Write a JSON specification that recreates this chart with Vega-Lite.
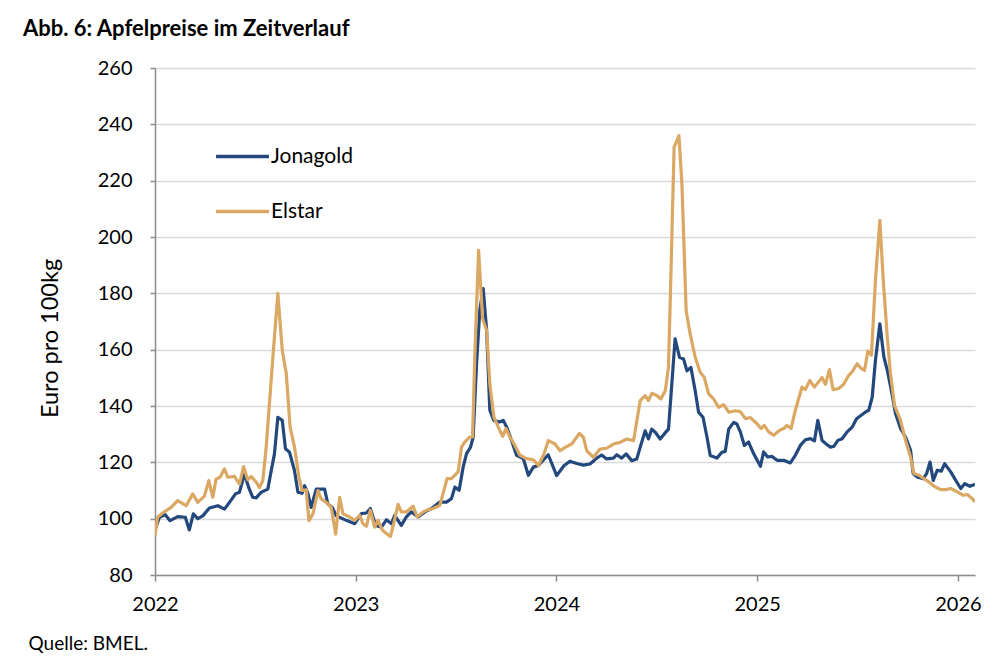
{
  "$schema": "https://vega.github.io/schema/vega-lite/v6.json",
  "width": 820,
  "height": 507,
  "autosize": {"type": "none"},
  "padding": {"left": 155, "top": 68, "right": 27, "bottom": 86},
  "background": "white",
  "title": {
    "text": "Abb. 6: Apfelpreise im Zeitverlauf",
    "anchor": "start",
    "frame": "group",
    "font": "Lato",
    "fontSize": 22,
    "fontWeight": "bold",
    "color": "#000000",
    "dx": -132,
    "offset": 17
  },
  "config": {
    "view": {"stroke": null},
    "font": "Lato"
  },
  "data": {
    "values": [
      {"t": 2022.000, "s": "Jonagold", "v": 96},
      {"t": 2022.022, "s": "Jonagold", "v": 100.5},
      {"t": 2022.051, "s": "Jonagold", "v": 101.4},
      {"t": 2022.075, "s": "Jonagold", "v": 99.3},
      {"t": 2022.113, "s": "Jonagold", "v": 100.7},
      {"t": 2022.151, "s": "Jonagold", "v": 100.5},
      {"t": 2022.171, "s": "Jonagold", "v": 96},
      {"t": 2022.191, "s": "Jonagold", "v": 101.7},
      {"t": 2022.213, "s": "Jonagold", "v": 100},
      {"t": 2022.238, "s": "Jonagold", "v": 101},
      {"t": 2022.271, "s": "Jonagold", "v": 103.8},
      {"t": 2022.313, "s": "Jonagold", "v": 104.6},
      {"t": 2022.346, "s": "Jonagold", "v": 103.4},
      {"t": 2022.371, "s": "Jonagold", "v": 105.8},
      {"t": 2022.401, "s": "Jonagold", "v": 108.8},
      {"t": 2022.421, "s": "Jonagold", "v": 109.4},
      {"t": 2022.446, "s": "Jonagold", "v": 115.9},
      {"t": 2022.467, "s": "Jonagold", "v": 111},
      {"t": 2022.487, "s": "Jonagold", "v": 107.6},
      {"t": 2022.504, "s": "Jonagold", "v": 107.4},
      {"t": 2022.529, "s": "Jonagold", "v": 109.4},
      {"t": 2022.562, "s": "Jonagold", "v": 110.5},
      {"t": 2022.579, "s": "Jonagold", "v": 117},
      {"t": 2022.595, "s": "Jonagold", "v": 123},
      {"t": 2022.612, "s": "Jonagold", "v": 136},
      {"t": 2022.634, "s": "Jonagold", "v": 134.9},
      {"t": 2022.650, "s": "Jonagold", "v": 124.8},
      {"t": 2022.670, "s": "Jonagold", "v": 123.6},
      {"t": 2022.695, "s": "Jonagold", "v": 117},
      {"t": 2022.712, "s": "Jonagold", "v": 109.4},
      {"t": 2022.733, "s": "Jonagold", "v": 109},
      {"t": 2022.745, "s": "Jonagold", "v": 111.7},
      {"t": 2022.762, "s": "Jonagold", "v": 108.8},
      {"t": 2022.778, "s": "Jonagold", "v": 104},
      {"t": 2022.803, "s": "Jonagold", "v": 110.5},
      {"t": 2022.845, "s": "Jonagold", "v": 110.5},
      {"t": 2022.861, "s": "Jonagold", "v": 105.2},
      {"t": 2022.883, "s": "Jonagold", "v": 104},
      {"t": 2022.903, "s": "Jonagold", "v": 101},
      {"t": 2022.953, "s": "Jonagold", "v": 99.4},
      {"t": 2022.995, "s": "Jonagold", "v": 98.2},
      {"t": 2023.028, "s": "Jonagold", "v": 101.8},
      {"t": 2023.053, "s": "Jonagold", "v": 102},
      {"t": 2023.073, "s": "Jonagold", "v": 103.6},
      {"t": 2023.099, "s": "Jonagold", "v": 97.6},
      {"t": 2023.128, "s": "Jonagold", "v": 97},
      {"t": 2023.153, "s": "Jonagold", "v": 99.6},
      {"t": 2023.178, "s": "Jonagold", "v": 98.2},
      {"t": 2023.194, "s": "Jonagold", "v": 101.2},
      {"t": 2023.227, "s": "Jonagold", "v": 97.6},
      {"t": 2023.252, "s": "Jonagold", "v": 100.6},
      {"t": 2023.277, "s": "Jonagold", "v": 102.4},
      {"t": 2023.311, "s": "Jonagold", "v": 100.6},
      {"t": 2023.344, "s": "Jonagold", "v": 102.4},
      {"t": 2023.377, "s": "Jonagold", "v": 103.6},
      {"t": 2023.419, "s": "Jonagold", "v": 105.9},
      {"t": 2023.452, "s": "Jonagold", "v": 105.9},
      {"t": 2023.477, "s": "Jonagold", "v": 107.1},
      {"t": 2023.494, "s": "Jonagold", "v": 111.2},
      {"t": 2023.515, "s": "Jonagold", "v": 110.1},
      {"t": 2023.535, "s": "Jonagold", "v": 118.3},
      {"t": 2023.552, "s": "Jonagold", "v": 123.1},
      {"t": 2023.572, "s": "Jonagold", "v": 125.4},
      {"t": 2023.585, "s": "Jonagold", "v": 129},
      {"t": 2023.602, "s": "Jonagold", "v": 155},
      {"t": 2023.618, "s": "Jonagold", "v": 174},
      {"t": 2023.635, "s": "Jonagold", "v": 181.7},
      {"t": 2023.652, "s": "Jonagold", "v": 166.9},
      {"t": 2023.668, "s": "Jonagold", "v": 138.5},
      {"t": 2023.688, "s": "Jonagold", "v": 134.9},
      {"t": 2023.715, "s": "Jonagold", "v": 134.3},
      {"t": 2023.735, "s": "Jonagold", "v": 134.9},
      {"t": 2023.752, "s": "Jonagold", "v": 132.5},
      {"t": 2023.776, "s": "Jonagold", "v": 127.8},
      {"t": 2023.801, "s": "Jonagold", "v": 122.5},
      {"t": 2023.835, "s": "Jonagold", "v": 121.3},
      {"t": 2023.860, "s": "Jonagold", "v": 115.4},
      {"t": 2023.885, "s": "Jonagold", "v": 118.3},
      {"t": 2023.910, "s": "Jonagold", "v": 118.9},
      {"t": 2023.959, "s": "Jonagold", "v": 122.7},
      {"t": 2024.001, "s": "Jonagold", "v": 115.3},
      {"t": 2024.037, "s": "Jonagold", "v": 118.8},
      {"t": 2024.067, "s": "Jonagold", "v": 120.4},
      {"t": 2024.101, "s": "Jonagold", "v": 119.6},
      {"t": 2024.134, "s": "Jonagold", "v": 119},
      {"t": 2024.167, "s": "Jonagold", "v": 119.4},
      {"t": 2024.201, "s": "Jonagold", "v": 121.5},
      {"t": 2024.225, "s": "Jonagold", "v": 122.6},
      {"t": 2024.250, "s": "Jonagold", "v": 121.2},
      {"t": 2024.284, "s": "Jonagold", "v": 121.5},
      {"t": 2024.300, "s": "Jonagold", "v": 122.7},
      {"t": 2024.325, "s": "Jonagold", "v": 121.5},
      {"t": 2024.347, "s": "Jonagold", "v": 123},
      {"t": 2024.375, "s": "Jonagold", "v": 120.6},
      {"t": 2024.400, "s": "Jonagold", "v": 121.2},
      {"t": 2024.417, "s": "Jonagold", "v": 125.3},
      {"t": 2024.442, "s": "Jonagold", "v": 131.2},
      {"t": 2024.458, "s": "Jonagold", "v": 128.3},
      {"t": 2024.475, "s": "Jonagold", "v": 131.8},
      {"t": 2024.492, "s": "Jonagold", "v": 130.7},
      {"t": 2024.517, "s": "Jonagold", "v": 128.3},
      {"t": 2024.537, "s": "Jonagold", "v": 130.1},
      {"t": 2024.558, "s": "Jonagold", "v": 131.8},
      {"t": 2024.571, "s": "Jonagold", "v": 144.3},
      {"t": 2024.591, "s": "Jonagold", "v": 163.8},
      {"t": 2024.613, "s": "Jonagold", "v": 157.3},
      {"t": 2024.633, "s": "Jonagold", "v": 156.7},
      {"t": 2024.650, "s": "Jonagold", "v": 152.5},
      {"t": 2024.670, "s": "Jonagold", "v": 153.7},
      {"t": 2024.691, "s": "Jonagold", "v": 145.4},
      {"t": 2024.708, "s": "Jonagold", "v": 137.8},
      {"t": 2024.730, "s": "Jonagold", "v": 136},
      {"t": 2024.750, "s": "Jonagold", "v": 128.9},
      {"t": 2024.766, "s": "Jonagold", "v": 122.4},
      {"t": 2024.799, "s": "Jonagold", "v": 121.5},
      {"t": 2024.824, "s": "Jonagold", "v": 123.6},
      {"t": 2024.841, "s": "Jonagold", "v": 123.9},
      {"t": 2024.858, "s": "Jonagold", "v": 131.8},
      {"t": 2024.883, "s": "Jonagold", "v": 134.2},
      {"t": 2024.899, "s": "Jonagold", "v": 133.6},
      {"t": 2024.916, "s": "Jonagold", "v": 130.8},
      {"t": 2024.936, "s": "Jonagold", "v": 126},
      {"t": 2024.957, "s": "Jonagold", "v": 127.2},
      {"t": 2024.982, "s": "Jonagold", "v": 123.1},
      {"t": 2025.016, "s": "Jonagold", "v": 118.6},
      {"t": 2025.032, "s": "Jonagold", "v": 123.7},
      {"t": 2025.052, "s": "Jonagold", "v": 121.9},
      {"t": 2025.074, "s": "Jonagold", "v": 122.1},
      {"t": 2025.099, "s": "Jonagold", "v": 120.7},
      {"t": 2025.132, "s": "Jonagold", "v": 120.7},
      {"t": 2025.165, "s": "Jonagold", "v": 119.8},
      {"t": 2025.190, "s": "Jonagold", "v": 122.5},
      {"t": 2025.215, "s": "Jonagold", "v": 126},
      {"t": 2025.240, "s": "Jonagold", "v": 128},
      {"t": 2025.265, "s": "Jonagold", "v": 128.4},
      {"t": 2025.285, "s": "Jonagold", "v": 127.6},
      {"t": 2025.302, "s": "Jonagold", "v": 134.9},
      {"t": 2025.323, "s": "Jonagold", "v": 127.8},
      {"t": 2025.345, "s": "Jonagold", "v": 126.4},
      {"t": 2025.365, "s": "Jonagold", "v": 125.4},
      {"t": 2025.382, "s": "Jonagold", "v": 125.7},
      {"t": 2025.402, "s": "Jonagold", "v": 127.8},
      {"t": 2025.423, "s": "Jonagold", "v": 128.4},
      {"t": 2025.448, "s": "Jonagold", "v": 130.8},
      {"t": 2025.473, "s": "Jonagold", "v": 132.5},
      {"t": 2025.495, "s": "Jonagold", "v": 135.5},
      {"t": 2025.518, "s": "Jonagold", "v": 136.7},
      {"t": 2025.540, "s": "Jonagold", "v": 137.9},
      {"t": 2025.556, "s": "Jonagold", "v": 138.5},
      {"t": 2025.573, "s": "Jonagold", "v": 143.2},
      {"t": 2025.589, "s": "Jonagold", "v": 156.2},
      {"t": 2025.611, "s": "Jonagold", "v": 169.2},
      {"t": 2025.631, "s": "Jonagold", "v": 157.4},
      {"t": 2025.648, "s": "Jonagold", "v": 152.7},
      {"t": 2025.668, "s": "Jonagold", "v": 145.6},
      {"t": 2025.689, "s": "Jonagold", "v": 137.3},
      {"t": 2025.714, "s": "Jonagold", "v": 132},
      {"t": 2025.739, "s": "Jonagold", "v": 129},
      {"t": 2025.764, "s": "Jonagold", "v": 124.3},
      {"t": 2025.777, "s": "Jonagold", "v": 116},
      {"t": 2025.797, "s": "Jonagold", "v": 114.8},
      {"t": 2025.827, "s": "Jonagold", "v": 114.2},
      {"t": 2025.844, "s": "Jonagold", "v": 116},
      {"t": 2025.861, "s": "Jonagold", "v": 120.1},
      {"t": 2025.877, "s": "Jonagold", "v": 113.6},
      {"t": 2025.897, "s": "Jonagold", "v": 117.2},
      {"t": 2025.917, "s": "Jonagold", "v": 116.9},
      {"t": 2025.934, "s": "Jonagold", "v": 119.5},
      {"t": 2025.964, "s": "Jonagold", "v": 116.6},
      {"t": 2025.994, "s": "Jonagold", "v": 113},
      {"t": 2026.014, "s": "Jonagold", "v": 110.7},
      {"t": 2026.034, "s": "Jonagold", "v": 112.4},
      {"t": 2026.060, "s": "Jonagold", "v": 111.5},
      {"t": 2026.085, "s": "Jonagold", "v": 112.2},
      {"t": 2022.000, "s": "Elstar", "v": 94},
      {"t": 2022.013, "s": "Elstar", "v": 100.5},
      {"t": 2022.038, "s": "Elstar", "v": 102},
      {"t": 2022.080, "s": "Elstar", "v": 104},
      {"t": 2022.113, "s": "Elstar", "v": 106.4},
      {"t": 2022.155, "s": "Elstar", "v": 104.6},
      {"t": 2022.188, "s": "Elstar", "v": 108.8},
      {"t": 2022.213, "s": "Elstar", "v": 105.8},
      {"t": 2022.246, "s": "Elstar", "v": 108},
      {"t": 2022.268, "s": "Elstar", "v": 113.5},
      {"t": 2022.288, "s": "Elstar", "v": 107.6},
      {"t": 2022.304, "s": "Elstar", "v": 114},
      {"t": 2022.324, "s": "Elstar", "v": 114.7},
      {"t": 2022.346, "s": "Elstar", "v": 117.7},
      {"t": 2022.362, "s": "Elstar", "v": 114.7},
      {"t": 2022.396, "s": "Elstar", "v": 115},
      {"t": 2022.421, "s": "Elstar", "v": 112.3},
      {"t": 2022.441, "s": "Elstar", "v": 118.5},
      {"t": 2022.462, "s": "Elstar", "v": 113.8},
      {"t": 2022.479, "s": "Elstar", "v": 115},
      {"t": 2022.504, "s": "Elstar", "v": 113},
      {"t": 2022.520, "s": "Elstar", "v": 111},
      {"t": 2022.537, "s": "Elstar", "v": 113.5},
      {"t": 2022.554, "s": "Elstar", "v": 125.4},
      {"t": 2022.570, "s": "Elstar", "v": 140.8},
      {"t": 2022.590, "s": "Elstar", "v": 159.8},
      {"t": 2022.612, "s": "Elstar", "v": 180},
      {"t": 2022.634, "s": "Elstar", "v": 159.8},
      {"t": 2022.654, "s": "Elstar", "v": 151.5},
      {"t": 2022.673, "s": "Elstar", "v": 132.5},
      {"t": 2022.695, "s": "Elstar", "v": 125.4},
      {"t": 2022.717, "s": "Elstar", "v": 114.7},
      {"t": 2022.733, "s": "Elstar", "v": 110},
      {"t": 2022.753, "s": "Elstar", "v": 110.2},
      {"t": 2022.767, "s": "Elstar", "v": 99.3},
      {"t": 2022.787, "s": "Elstar", "v": 101.7},
      {"t": 2022.812, "s": "Elstar", "v": 110},
      {"t": 2022.828, "s": "Elstar", "v": 107},
      {"t": 2022.853, "s": "Elstar", "v": 105.8},
      {"t": 2022.878, "s": "Elstar", "v": 104},
      {"t": 2022.900, "s": "Elstar", "v": 94.5},
      {"t": 2022.920, "s": "Elstar", "v": 107.6},
      {"t": 2022.936, "s": "Elstar", "v": 101.8},
      {"t": 2022.970, "s": "Elstar", "v": 100.6},
      {"t": 2022.995, "s": "Elstar", "v": 99.4},
      {"t": 2023.020, "s": "Elstar", "v": 101.2},
      {"t": 2023.036, "s": "Elstar", "v": 98.2},
      {"t": 2023.053, "s": "Elstar", "v": 97.3},
      {"t": 2023.073, "s": "Elstar", "v": 103},
      {"t": 2023.094, "s": "Elstar", "v": 97},
      {"t": 2023.111, "s": "Elstar", "v": 99.4},
      {"t": 2023.133, "s": "Elstar", "v": 95.9},
      {"t": 2023.153, "s": "Elstar", "v": 94.7},
      {"t": 2023.173, "s": "Elstar", "v": 93.7},
      {"t": 2023.189, "s": "Elstar", "v": 98.2},
      {"t": 2023.211, "s": "Elstar", "v": 105.1},
      {"t": 2023.227, "s": "Elstar", "v": 102.4},
      {"t": 2023.252, "s": "Elstar", "v": 102.4},
      {"t": 2023.286, "s": "Elstar", "v": 104.4},
      {"t": 2023.306, "s": "Elstar", "v": 100.6},
      {"t": 2023.336, "s": "Elstar", "v": 102.4},
      {"t": 2023.361, "s": "Elstar", "v": 103.2},
      {"t": 2023.385, "s": "Elstar", "v": 103.6},
      {"t": 2023.419, "s": "Elstar", "v": 104.7},
      {"t": 2023.435, "s": "Elstar", "v": 108.9},
      {"t": 2023.455, "s": "Elstar", "v": 114.2},
      {"t": 2023.477, "s": "Elstar", "v": 114.2},
      {"t": 2023.510, "s": "Elstar", "v": 116.6},
      {"t": 2023.527, "s": "Elstar", "v": 125.4},
      {"t": 2023.543, "s": "Elstar", "v": 127.2},
      {"t": 2023.568, "s": "Elstar", "v": 129},
      {"t": 2023.582, "s": "Elstar", "v": 129},
      {"t": 2023.593, "s": "Elstar", "v": 157.4},
      {"t": 2023.612, "s": "Elstar", "v": 195.3},
      {"t": 2023.632, "s": "Elstar", "v": 171},
      {"t": 2023.652, "s": "Elstar", "v": 166.9},
      {"t": 2023.668, "s": "Elstar", "v": 147.9},
      {"t": 2023.688, "s": "Elstar", "v": 136.1},
      {"t": 2023.710, "s": "Elstar", "v": 132.5},
      {"t": 2023.732, "s": "Elstar", "v": 129.2},
      {"t": 2023.748, "s": "Elstar", "v": 132},
      {"t": 2023.768, "s": "Elstar", "v": 129},
      {"t": 2023.793, "s": "Elstar", "v": 126},
      {"t": 2023.818, "s": "Elstar", "v": 122.5},
      {"t": 2023.851, "s": "Elstar", "v": 121.3},
      {"t": 2023.885, "s": "Elstar", "v": 120.9},
      {"t": 2023.910, "s": "Elstar", "v": 118.9},
      {"t": 2023.938, "s": "Elstar", "v": 123},
      {"t": 2023.959, "s": "Elstar", "v": 127.7},
      {"t": 2023.993, "s": "Elstar", "v": 126.5},
      {"t": 2024.018, "s": "Elstar", "v": 124.1},
      {"t": 2024.043, "s": "Elstar", "v": 125.3},
      {"t": 2024.076, "s": "Elstar", "v": 126.5},
      {"t": 2024.114, "s": "Elstar", "v": 130.3},
      {"t": 2024.134, "s": "Elstar", "v": 128.9},
      {"t": 2024.151, "s": "Elstar", "v": 124.1},
      {"t": 2024.184, "s": "Elstar", "v": 121.8},
      {"t": 2024.217, "s": "Elstar", "v": 124.7},
      {"t": 2024.250, "s": "Elstar", "v": 125},
      {"t": 2024.284, "s": "Elstar", "v": 126.5},
      {"t": 2024.317, "s": "Elstar", "v": 127.1},
      {"t": 2024.350, "s": "Elstar", "v": 128.3},
      {"t": 2024.384, "s": "Elstar", "v": 127.7},
      {"t": 2024.417, "s": "Elstar", "v": 141.9},
      {"t": 2024.442, "s": "Elstar", "v": 143.7},
      {"t": 2024.458, "s": "Elstar", "v": 141.9},
      {"t": 2024.475, "s": "Elstar", "v": 144.5},
      {"t": 2024.500, "s": "Elstar", "v": 143.7},
      {"t": 2024.520, "s": "Elstar", "v": 142.5},
      {"t": 2024.542, "s": "Elstar", "v": 145.4},
      {"t": 2024.558, "s": "Elstar", "v": 153.7},
      {"t": 2024.571, "s": "Elstar", "v": 189.2},
      {"t": 2024.586, "s": "Elstar", "v": 231.8},
      {"t": 2024.610, "s": "Elstar", "v": 236},
      {"t": 2024.625, "s": "Elstar", "v": 218.8},
      {"t": 2024.646, "s": "Elstar", "v": 173.8},
      {"t": 2024.666, "s": "Elstar", "v": 165.6},
      {"t": 2024.691, "s": "Elstar", "v": 157.3},
      {"t": 2024.716, "s": "Elstar", "v": 152},
      {"t": 2024.736, "s": "Elstar", "v": 150.2},
      {"t": 2024.758, "s": "Elstar", "v": 144.3},
      {"t": 2024.783, "s": "Elstar", "v": 142.5},
      {"t": 2024.808, "s": "Elstar", "v": 139.5},
      {"t": 2024.833, "s": "Elstar", "v": 140.5},
      {"t": 2024.858, "s": "Elstar", "v": 137.8},
      {"t": 2024.891, "s": "Elstar", "v": 138.3},
      {"t": 2024.916, "s": "Elstar", "v": 138},
      {"t": 2024.941, "s": "Elstar", "v": 135.5},
      {"t": 2024.966, "s": "Elstar", "v": 135.9},
      {"t": 2024.999, "s": "Elstar", "v": 133.7},
      {"t": 2025.019, "s": "Elstar", "v": 132},
      {"t": 2025.035, "s": "Elstar", "v": 133.1},
      {"t": 2025.057, "s": "Elstar", "v": 130.8},
      {"t": 2025.082, "s": "Elstar", "v": 129.6},
      {"t": 2025.112, "s": "Elstar", "v": 131.4},
      {"t": 2025.132, "s": "Elstar", "v": 132},
      {"t": 2025.149, "s": "Elstar", "v": 133.1},
      {"t": 2025.169, "s": "Elstar", "v": 132},
      {"t": 2025.190, "s": "Elstar", "v": 138.5},
      {"t": 2025.223, "s": "Elstar", "v": 146.7},
      {"t": 2025.240, "s": "Elstar", "v": 145.8},
      {"t": 2025.262, "s": "Elstar", "v": 149.1},
      {"t": 2025.285, "s": "Elstar", "v": 146.7},
      {"t": 2025.323, "s": "Elstar", "v": 150.1},
      {"t": 2025.340, "s": "Elstar", "v": 147.7},
      {"t": 2025.360, "s": "Elstar", "v": 152.9},
      {"t": 2025.378, "s": "Elstar", "v": 145.8},
      {"t": 2025.406, "s": "Elstar", "v": 146.2},
      {"t": 2025.431, "s": "Elstar", "v": 147.7},
      {"t": 2025.456, "s": "Elstar", "v": 150.9},
      {"t": 2025.473, "s": "Elstar", "v": 152.1},
      {"t": 2025.498, "s": "Elstar", "v": 155},
      {"t": 2025.518, "s": "Elstar", "v": 153.3},
      {"t": 2025.535, "s": "Elstar", "v": 152.7},
      {"t": 2025.551, "s": "Elstar", "v": 159.5},
      {"t": 2025.569, "s": "Elstar", "v": 158},
      {"t": 2025.589, "s": "Elstar", "v": 184.6},
      {"t": 2025.611, "s": "Elstar", "v": 205.9},
      {"t": 2025.628, "s": "Elstar", "v": 184.6},
      {"t": 2025.648, "s": "Elstar", "v": 164.5},
      {"t": 2025.664, "s": "Elstar", "v": 151.5},
      {"t": 2025.684, "s": "Elstar", "v": 140.2},
      {"t": 2025.714, "s": "Elstar", "v": 134.9},
      {"t": 2025.739, "s": "Elstar", "v": 127.8},
      {"t": 2025.764, "s": "Elstar", "v": 121.9},
      {"t": 2025.781, "s": "Elstar", "v": 116},
      {"t": 2025.806, "s": "Elstar", "v": 115.4},
      {"t": 2025.831, "s": "Elstar", "v": 114.2},
      {"t": 2025.856, "s": "Elstar", "v": 113},
      {"t": 2025.881, "s": "Elstar", "v": 111.5},
      {"t": 2025.914, "s": "Elstar", "v": 110.3},
      {"t": 2025.939, "s": "Elstar", "v": 110.3},
      {"t": 2025.964, "s": "Elstar", "v": 110.7},
      {"t": 2025.997, "s": "Elstar", "v": 109.5},
      {"t": 2026.027, "s": "Elstar", "v": 108.3},
      {"t": 2026.047, "s": "Elstar", "v": 108.6},
      {"t": 2026.072, "s": "Elstar", "v": 107.1},
      {"t": 2026.085, "s": "Elstar", "v": 105.9}
    ]
  },
  "mark": {"type": "line", "strokeWidth": 3.2, "strokeJoin": "round", "clip": true},
  "encoding": {
    "x": {
      "field": "t",
      "type": "quantitative",
      "scale": {"domain": [2022, 2026.085], "nice": false, "zero": false},
      "axis": {
        "values": [2022, 2023, 2024, 2025, 2026],
        "format": "d",
        "grid": false,
        "domainColor": "#8c8c8c",
        "domainWidth": 1.5,
        "tickColor": "#8c8c8c",
        "tickWidth": 1.5,
        "tickSize": 6,
        "labelFont": "Lato",
        "labelFontSize": 20,
        "labelColor": "#000000",
        "labelPadding": 13,
        "labelFlush": false,
        "title": "Quelle: BMEL.",
        "titleFont": "Lato",
        "titleFontSize": 19,
        "titleFontWeight": "normal",
        "titleColor": "#000000",
        "titleAlign": "left",
        "titleAnchor": "start",
        "titleBaseline": "alphabetic",
        "titleX": -127,
        "titleY": 74
      }
    },
    "y": {
      "field": "v",
      "type": "quantitative",
      "scale": {"domain": [80, 260], "nice": false, "zero": false},
      "axis": {
        "values": [80, 100, 120, 140, 160, 180, 200, 220, 240, 260],
        "grid": true,
        "gridColor": "#d9d9d9",
        "gridWidth": 1.5,
        "domainColor": "#8c8c8c",
        "domainWidth": 1.5,
        "tickColor": "#8c8c8c",
        "tickWidth": 1.5,
        "tickSize": 5,
        "labelFont": "Lato",
        "labelFontSize": 20,
        "labelColor": "#000000",
        "labelPadding": 18,
        "title": "Euro pro 100kg",
        "titleFont": "Lato",
        "titleFontSize": 23.5,
        "titleFontWeight": "normal",
        "titleColor": "#000000",
        "titleAngle": -90,
        "titleAlign": "center",
        "titleBaseline": "middle",
        "titleX": -105,
        "titleY": 270
      }
    },
    "color": {
      "field": "s",
      "type": "nominal",
      "sort": ["Jonagold", "Elstar"],
      "scale": {"domain": ["Jonagold", "Elstar"], "range": ["#23487E", "#DBA863"]},
      "legend": {
        "title": null,
        "orient": "none",
        "legendX": 59,
        "legendY": 60,
        "direction": "vertical",
        "symbolType": "stroke",
        "symbolSize": 2800,
        "symbolStrokeWidth": 3.5,
        "labelFont": "Lato",
        "labelFontSize": 21,
        "labelColor": "#000000",
        "labelOffset": 0,
        "rowPadding": 16
      }
    }
  }
}
